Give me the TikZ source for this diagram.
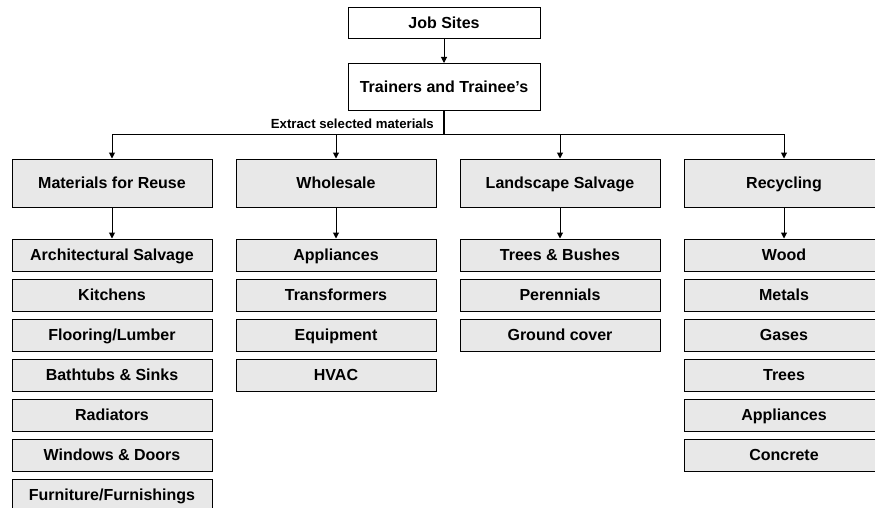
\documentclass[tikz,border=0pt]{standalone}
\usepackage{fontspec}
\setmainfont{Liberation Sans}
\usetikzlibrary{positioning,arrows.meta,shadows}
\definecolor{boxgray}{HTML}{E8E8E8}
\tikzset{node distance=7pt, >={Triangle[length=6pt,width=6pt]},
  topbox/.style={draw, line width=1pt, fill=white, minimum width=192pt, inner sep=0pt,
    text height=11.5pt, text depth=0pt, font=\fontsize{16}{19}\selectfont\bfseries},
  catbox/.style={draw, line width=1pt, fill=boxgray, minimum width=200pt, minimum height=48pt, inner sep=0pt,
    text height=11.5pt, text depth=0pt, font=\fontsize{16}{19}\selectfont\bfseries,
    general shadow={shadow xshift=0.8pt, shadow yshift=-0.8pt, fill=black!75}},
  itembox/.style={catbox, minimum height=32pt}}

\begin{document}
\begin{tikzpicture}[x=1pt, y=1pt]
\useasboundingbox (0,0) rectangle (875,-508);
\node[topbox, minimum height=31pt] (jobs) at (444,-23) {Job Sites};
\node[topbox, minimum height=47pt] (trainers) [below=24pt of jobs] {Trainers and Trainee’s};
\coordinate[below=24pt of trainers] (bus);
\node (extract) [anchor=south east, inner sep=0pt, xshift=-10pt, yshift=6pt,
  font=\fontsize{13.2}{16}\selectfont\bfseries] at (bus) {Extract selected materials};

\node[catbox] (reuse) at (112,-183) {Materials for Reuse};
\node[catbox] (whole) [right=23pt of reuse] {Wholesale};
\node[catbox] (land) [right=23pt of whole] {Landscape Salvage};
\node[catbox] (recyc) [right=23pt of land] {Recycling};

% materials for reuse
\node[itembox] (arch) [below=31pt of reuse] {Architectural Salvage};
\node[itembox] (kitch) [below=of arch] {Kitchens};
\node[itembox] (floor) [below=of kitch] {Flooring/Lumber};
\node[itembox] (bath) [below=of floor] {Bathtubs \& Sinks};
\node[itembox] (radi) [below=of bath] {Radiators};
\node[itembox] (wind) [below=of radi] {Windows \& Doors};
\node[itembox] (furn) [below=of wind] {Furniture/Furnishings};

% wholesale
\node[itembox] (appl) [below=31pt of whole] {Appliances};
\node[itembox] (trans) [below=of appl] {Transformers};
\node[itembox] (equip) [below=of trans] {Equipment};
\node[itembox] (hvac) [below=of equip] {HVAC};

% landscape salvage
\node[itembox] (trees) [below=31pt of land] {Trees \& Bushes};
\node[itembox] (peren) [below=of trees] {Perennials};
\node[itembox] (ground) [below=of peren] {Ground cover};

% recycling
\node[itembox] (wood) [below=31pt of recyc] {Wood};
\node[itembox] (metal) [below=of wood] {Metals};
\node[itembox] (gas) [below=of metal] {Gases};
\node[itembox] (rtree) [below=of gas] {Trees};
\node[itembox] (rappl) [below=of rtree] {Appliances};
\node[itembox] (concr) [below=of rappl] {Concrete};

\draw[->, line width=1pt] (jobs) to (trainers);
\draw[line width=2pt] (trainers) to (bus);
\draw[->, line width=1pt] (bus) -| (reuse);
\draw[->, line width=1pt] (bus) -| (whole);
\draw[->, line width=1pt] (bus) -| (land);
\draw[->, line width=1pt] (bus) -| (recyc);
\draw[->, line width=1pt] (reuse) to (arch);
\draw[->, line width=1pt] (whole) to (appl);
\draw[->, line width=1pt] (land) to (trees);
\draw[->, line width=1pt] (recyc) to (wood);
\end{tikzpicture}
\end{document}
